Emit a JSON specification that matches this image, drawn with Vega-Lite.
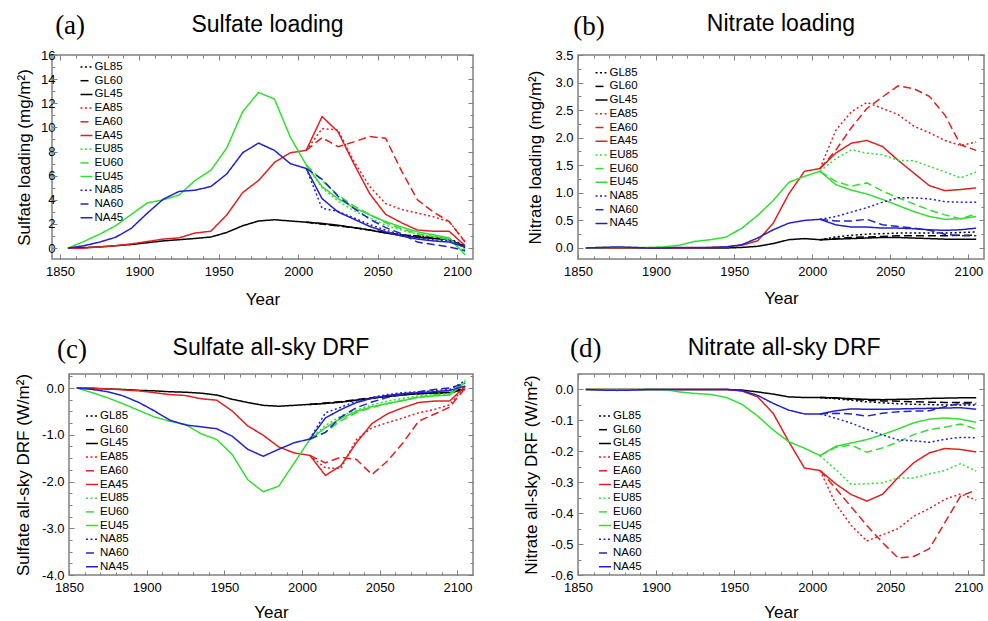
{
"$schema": "https://vega.github.io/schema/vega-lite/v6.json",
"background": "white",
"padding": {"left": 14, "top": 11, "right": 0, "bottom": 0},
"columns": 2,
"align": "each",
"spacing": {"row": 25, "column": 46},
"datasets": {
"a": [
{"s":"GL45","t":1855,"v":0},{"s":"GL45","t":1865,"v":0.05},{"s":"GL45","t":1875,"v":0.1},{"s":"GL45","t":1885,"v":0.2},{"s":"GL45","t":1895,"v":0.3},{"s":"GL45","t":1905,"v":0.45},{"s":"GL45","t":1915,"v":0.6},{"s":"GL45","t":1925,"v":0.7},{"s":"GL45","t":1935,"v":0.8},{"s":"GL45","t":1945,"v":0.92},{"s":"GL45","t":1955,"v":1.3},{"s":"GL45","t":1965,"v":1.85},{"s":"GL45","t":1975,"v":2.25},{"s":"GL45","t":1985,"v":2.35},{"s":"GL45","t":1995,"v":2.25},{"s":"GL45","t":2005,"v":2.15},{"s":"GL45","t":2015,"v":2.05},{"s":"GL45","t":2025,"v":1.9},{"s":"GL45","t":2035,"v":1.7},{"s":"GL45","t":2045,"v":1.5},{"s":"GL45","t":2055,"v":1.25},{"s":"GL45","t":2065,"v":1.05},{"s":"GL45","t":2075,"v":0.9},{"s":"GL45","t":2085,"v":0.8},{"s":"GL45","t":2095,"v":0.7},{"s":"GL45","t":2105,"v":0.1},
{"s":"GL60","t":2005,"v":2.15},{"s":"GL60","t":2015,"v":2.0},{"s":"GL60","t":2025,"v":1.85},{"s":"GL60","t":2035,"v":1.7},{"s":"GL60","t":2045,"v":1.5},{"s":"GL60","t":2055,"v":1.3},{"s":"GL60","t":2065,"v":1.1},{"s":"GL60","t":2075,"v":1.0},{"s":"GL60","t":2085,"v":0.85},{"s":"GL60","t":2095,"v":0.75},{"s":"GL60","t":2105,"v":0.05},
{"s":"GL85","t":2005,"v":2.15},{"s":"GL85","t":2015,"v":2.0},{"s":"GL85","t":2025,"v":1.85},{"s":"GL85","t":2035,"v":1.7},{"s":"GL85","t":2045,"v":1.5},{"s":"GL85","t":2055,"v":1.3},{"s":"GL85","t":2065,"v":1.1},{"s":"GL85","t":2075,"v":1.0},{"s":"GL85","t":2085,"v":0.9},{"s":"GL85","t":2095,"v":0.8},{"s":"GL85","t":2105,"v":0.2},
{"s":"EA45","t":1855,"v":0},{"s":"EA45","t":1865,"v":0},{"s":"EA45","t":1875,"v":0.1},{"s":"EA45","t":1885,"v":0.2},{"s":"EA45","t":1895,"v":0.35},{"s":"EA45","t":1905,"v":0.55},{"s":"EA45","t":1915,"v":0.75},{"s":"EA45","t":1925,"v":0.85},{"s":"EA45","t":1935,"v":1.25},{"s":"EA45","t":1945,"v":1.4},{"s":"EA45","t":1955,"v":2.75},{"s":"EA45","t":1965,"v":4.6},{"s":"EA45","t":1975,"v":5.6},{"s":"EA45","t":1985,"v":7.1},{"s":"EA45","t":1995,"v":7.9},{"s":"EA45","t":2005,"v":8.1},{"s":"EA45","t":2015,"v":10.9},{"s":"EA45","t":2025,"v":9.65},{"s":"EA45","t":2035,"v":7.0},{"s":"EA45","t":2045,"v":4.5},{"s":"EA45","t":2055,"v":2.8},{"s":"EA45","t":2065,"v":2.1},{"s":"EA45","t":2075,"v":1.5},{"s":"EA45","t":2085,"v":1.4},{"s":"EA45","t":2095,"v":1.4},{"s":"EA45","t":2105,"v":0.2},
{"s":"EA60","t":2005,"v":8.1},{"s":"EA60","t":2015,"v":9.15},{"s":"EA60","t":2025,"v":8.4},{"s":"EA60","t":2035,"v":8.8},{"s":"EA60","t":2045,"v":9.25},{"s":"EA60","t":2055,"v":9.1},{"s":"EA60","t":2065,"v":6.4},{"s":"EA60","t":2075,"v":4.0},{"s":"EA60","t":2085,"v":3.0},{"s":"EA60","t":2095,"v":2.2},{"s":"EA60","t":2105,"v":0.5},
{"s":"EA85","t":2005,"v":8.1},{"s":"EA85","t":2015,"v":9.9},{"s":"EA85","t":2025,"v":9.8},{"s":"EA85","t":2035,"v":7.2},{"s":"EA85","t":2045,"v":5.1},{"s":"EA85","t":2055,"v":3.7},{"s":"EA85","t":2065,"v":3.2},{"s":"EA85","t":2075,"v":2.9},{"s":"EA85","t":2085,"v":2.6},{"s":"EA85","t":2095,"v":2.2},{"s":"EA85","t":2105,"v":0.55},
{"s":"EU45","t":1855,"v":0},{"s":"EU45","t":1865,"v":0.55},{"s":"EU45","t":1875,"v":1.15},{"s":"EU45","t":1885,"v":1.85},{"s":"EU45","t":1895,"v":2.8},{"s":"EU45","t":1905,"v":3.75},{"s":"EU45","t":1915,"v":4.0},{"s":"EU45","t":1925,"v":4.4},{"s":"EU45","t":1935,"v":5.6},{"s":"EU45","t":1945,"v":6.45},{"s":"EU45","t":1955,"v":8.3},{"s":"EU45","t":1965,"v":11.3},{"s":"EU45","t":1975,"v":12.9},{"s":"EU45","t":1985,"v":12.35},{"s":"EU45","t":1995,"v":9.2},{"s":"EU45","t":2005,"v":6.9},{"s":"EU45","t":2015,"v":5.1},{"s":"EU45","t":2025,"v":4.1},{"s":"EU45","t":2035,"v":3.35},{"s":"EU45","t":2045,"v":2.75},{"s":"EU45","t":2055,"v":2.2},{"s":"EU45","t":2065,"v":1.75},{"s":"EU45","t":2075,"v":1.35},{"s":"EU45","t":2085,"v":1.1},{"s":"EU45","t":2095,"v":0.85},{"s":"EU45","t":2105,"v":-0.55},
{"s":"EU60","t":2005,"v":6.9},{"s":"EU60","t":2015,"v":5.6},{"s":"EU60","t":2025,"v":4.4},{"s":"EU60","t":2035,"v":3.5},{"s":"EU60","t":2045,"v":2.8},{"s":"EU60","t":2055,"v":2.1},{"s":"EU60","t":2065,"v":1.6},{"s":"EU60","t":2075,"v":1.2},{"s":"EU60","t":2085,"v":0.95},{"s":"EU60","t":2095,"v":0.7},{"s":"EU60","t":2105,"v":-0.3},
{"s":"EU85","t":2005,"v":6.9},{"s":"EU85","t":2015,"v":5.0},{"s":"EU85","t":2025,"v":3.9},{"s":"EU85","t":2035,"v":3.1},{"s":"EU85","t":2045,"v":2.5},{"s":"EU85","t":2055,"v":1.9},{"s":"EU85","t":2065,"v":1.5},{"s":"EU85","t":2075,"v":1.15},{"s":"EU85","t":2085,"v":0.95},{"s":"EU85","t":2095,"v":0.75},{"s":"EU85","t":2105,"v":-0.1},
{"s":"NA45","t":1855,"v":0},{"s":"NA45","t":1865,"v":0.2},{"s":"NA45","t":1875,"v":0.5},{"s":"NA45","t":1885,"v":0.9},{"s":"NA45","t":1895,"v":1.65},{"s":"NA45","t":1905,"v":2.9},{"s":"NA45","t":1915,"v":4.05},{"s":"NA45","t":1925,"v":4.7},{"s":"NA45","t":1935,"v":4.8},{"s":"NA45","t":1945,"v":5.1},{"s":"NA45","t":1955,"v":6.15},{"s":"NA45","t":1965,"v":7.9},{"s":"NA45","t":1975,"v":8.7},{"s":"NA45","t":1985,"v":8.1},{"s":"NA45","t":1995,"v":7.0},{"s":"NA45","t":2005,"v":6.6},{"s":"NA45","t":2015,"v":4.1},{"s":"NA45","t":2025,"v":3.0},{"s":"NA45","t":2035,"v":2.4},{"s":"NA45","t":2045,"v":1.8},{"s":"NA45","t":2055,"v":1.35},{"s":"NA45","t":2065,"v":1.0},{"s":"NA45","t":2075,"v":0.75},{"s":"NA45","t":2085,"v":0.6},{"s":"NA45","t":2095,"v":0.5},{"s":"NA45","t":2105,"v":0.1},
{"s":"NA60","t":2005,"v":6.6},{"s":"NA60","t":2015,"v":5.7},{"s":"NA60","t":2025,"v":4.3},{"s":"NA60","t":2035,"v":3.3},{"s":"NA60","t":2045,"v":2.4},{"s":"NA60","t":2055,"v":1.7},{"s":"NA60","t":2065,"v":1.2},{"s":"NA60","t":2075,"v":0.5},{"s":"NA60","t":2085,"v":0.3},{"s":"NA60","t":2095,"v":0.1},{"s":"NA60","t":2105,"v":-0.2},
{"s":"NA85","t":2005,"v":6.6},{"s":"NA85","t":2015,"v":3.3},{"s":"NA85","t":2025,"v":3.05},{"s":"NA85","t":2035,"v":2.5},{"s":"NA85","t":2045,"v":1.95},{"s":"NA85","t":2055,"v":1.5},{"s":"NA85","t":2065,"v":1.1},{"s":"NA85","t":2075,"v":0.85},{"s":"NA85","t":2085,"v":0.7},{"s":"NA85","t":2095,"v":0.6},{"s":"NA85","t":2105,"v":0.25}
],
"b": [
{"s":"GL45","t":1855,"v":0},{"s":"GL45","t":1865,"v":0},{"s":"GL45","t":1875,"v":0},{"s":"GL45","t":1885,"v":0},{"s":"GL45","t":1895,"v":0},{"s":"GL45","t":1905,"v":0},{"s":"GL45","t":1915,"v":0},{"s":"GL45","t":1925,"v":0},{"s":"GL45","t":1935,"v":0},{"s":"GL45","t":1945,"v":0},{"s":"GL45","t":1955,"v":0.01},{"s":"GL45","t":1965,"v":0.03},{"s":"GL45","t":1975,"v":0.08},{"s":"GL45","t":1985,"v":0.15},{"s":"GL45","t":1995,"v":0.17},{"s":"GL45","t":2005,"v":0.15},{"s":"GL45","t":2015,"v":0.16},{"s":"GL45","t":2025,"v":0.17},{"s":"GL45","t":2035,"v":0.18},{"s":"GL45","t":2045,"v":0.19},{"s":"GL45","t":2055,"v":0.19},{"s":"GL45","t":2065,"v":0.18},{"s":"GL45","t":2075,"v":0.17},{"s":"GL45","t":2085,"v":0.16},{"s":"GL45","t":2095,"v":0.16},{"s":"GL45","t":2105,"v":0.16},
{"s":"GL60","t":2005,"v":0.15},{"s":"GL60","t":2015,"v":0.17},{"s":"GL60","t":2025,"v":0.19},{"s":"GL60","t":2035,"v":0.2},{"s":"GL60","t":2045,"v":0.21},{"s":"GL60","t":2055,"v":0.22},{"s":"GL60","t":2065,"v":0.22},{"s":"GL60","t":2075,"v":0.22},{"s":"GL60","t":2085,"v":0.22},{"s":"GL60","t":2095,"v":0.23},{"s":"GL60","t":2105,"v":0.23},
{"s":"GL85","t":2005,"v":0.15},{"s":"GL85","t":2015,"v":0.2},{"s":"GL85","t":2025,"v":0.23},{"s":"GL85","t":2035,"v":0.25},{"s":"GL85","t":2045,"v":0.26},{"s":"GL85","t":2055,"v":0.27},{"s":"GL85","t":2065,"v":0.27},{"s":"GL85","t":2075,"v":0.27},{"s":"GL85","t":2085,"v":0.27},{"s":"GL85","t":2095,"v":0.28},{"s":"GL85","t":2105,"v":0.29},
{"s":"EA45","t":1855,"v":0},{"s":"EA45","t":1865,"v":0},{"s":"EA45","t":1875,"v":0},{"s":"EA45","t":1885,"v":0},{"s":"EA45","t":1895,"v":0},{"s":"EA45","t":1905,"v":0},{"s":"EA45","t":1915,"v":0},{"s":"EA45","t":1925,"v":0},{"s":"EA45","t":1935,"v":0.01},{"s":"EA45","t":1945,"v":0.02},{"s":"EA45","t":1955,"v":0.05},{"s":"EA45","t":1965,"v":0.13},{"s":"EA45","t":1975,"v":0.45},{"s":"EA45","t":1985,"v":0.98},{"s":"EA45","t":1995,"v":1.39},{"s":"EA45","t":2005,"v":1.44},{"s":"EA45","t":2015,"v":1.72},{"s":"EA45","t":2025,"v":1.9},{"s":"EA45","t":2035,"v":1.95},{"s":"EA45","t":2045,"v":1.84},{"s":"EA45","t":2055,"v":1.59},{"s":"EA45","t":2065,"v":1.36},{"s":"EA45","t":2075,"v":1.13},{"s":"EA45","t":2085,"v":1.04},{"s":"EA45","t":2095,"v":1.06},{"s":"EA45","t":2105,"v":1.09},
{"s":"EA60","t":2005,"v":1.44},{"s":"EA60","t":2015,"v":1.77},{"s":"EA60","t":2025,"v":2.18},{"s":"EA60","t":2035,"v":2.53},{"s":"EA60","t":2045,"v":2.74},{"s":"EA60","t":2055,"v":2.94},{"s":"EA60","t":2065,"v":2.89},{"s":"EA60","t":2075,"v":2.75},{"s":"EA60","t":2085,"v":2.41},{"s":"EA60","t":2095,"v":1.87},{"s":"EA60","t":2105,"v":1.77},
{"s":"EA85","t":2005,"v":1.44},{"s":"EA85","t":2015,"v":2.13},{"s":"EA85","t":2025,"v":2.47},{"s":"EA85","t":2035,"v":2.64},{"s":"EA85","t":2045,"v":2.53},{"s":"EA85","t":2055,"v":2.42},{"s":"EA85","t":2065,"v":2.21},{"s":"EA85","t":2075,"v":2.09},{"s":"EA85","t":2085,"v":1.95},{"s":"EA85","t":2095,"v":1.86},{"s":"EA85","t":2105,"v":1.92},
{"s":"EU45","t":1855,"v":0},{"s":"EU45","t":1865,"v":0.01},{"s":"EU45","t":1875,"v":0.01},{"s":"EU45","t":1885,"v":0.01},{"s":"EU45","t":1895,"v":0.01},{"s":"EU45","t":1905,"v":0.02},{"s":"EU45","t":1915,"v":0.05},{"s":"EU45","t":1925,"v":0.12},{"s":"EU45","t":1935,"v":0.15},{"s":"EU45","t":1945,"v":0.2},{"s":"EU45","t":1955,"v":0.36},{"s":"EU45","t":1965,"v":0.59},{"s":"EU45","t":1975,"v":0.86},{"s":"EU45","t":1985,"v":1.19},{"s":"EU45","t":1995,"v":1.3},{"s":"EU45","t":2005,"v":1.39},{"s":"EU45","t":2015,"v":1.15},{"s":"EU45","t":2025,"v":1.05},{"s":"EU45","t":2035,"v":0.98},{"s":"EU45","t":2045,"v":0.88},{"s":"EU45","t":2055,"v":0.77},{"s":"EU45","t":2065,"v":0.66},{"s":"EU45","t":2075,"v":0.57},{"s":"EU45","t":2085,"v":0.52},{"s":"EU45","t":2095,"v":0.53},{"s":"EU45","t":2105,"v":0.57},
{"s":"EU60","t":2005,"v":1.39},{"s":"EU60","t":2015,"v":1.21},{"s":"EU60","t":2025,"v":1.12},{"s":"EU60","t":2035,"v":1.18},{"s":"EU60","t":2045,"v":1.03},{"s":"EU60","t":2055,"v":0.91},{"s":"EU60","t":2065,"v":0.8},{"s":"EU60","t":2075,"v":0.69},{"s":"EU60","t":2085,"v":0.6},{"s":"EU60","t":2095,"v":0.53},{"s":"EU60","t":2105,"v":0.62},
{"s":"EU85","t":2005,"v":1.39},{"s":"EU85","t":2015,"v":1.62},{"s":"EU85","t":2025,"v":1.78},{"s":"EU85","t":2035,"v":1.72},{"s":"EU85","t":2045,"v":1.69},{"s":"EU85","t":2055,"v":1.59},{"s":"EU85","t":2065,"v":1.58},{"s":"EU85","t":2075,"v":1.48},{"s":"EU85","t":2085,"v":1.38},{"s":"EU85","t":2095,"v":1.27},{"s":"EU85","t":2105,"v":1.38},
{"s":"NA45","t":1855,"v":0},{"s":"NA45","t":1865,"v":0.01},{"s":"NA45","t":1875,"v":0.02},{"s":"NA45","t":1885,"v":0.01},{"s":"NA45","t":1895,"v":0},{"s":"NA45","t":1905,"v":0},{"s":"NA45","t":1915,"v":0.01},{"s":"NA45","t":1925,"v":0.01},{"s":"NA45","t":1935,"v":0.01},{"s":"NA45","t":1945,"v":0.02},{"s":"NA45","t":1955,"v":0.06},{"s":"NA45","t":1965,"v":0.18},{"s":"NA45","t":1975,"v":0.33},{"s":"NA45","t":1985,"v":0.45},{"s":"NA45","t":1995,"v":0.5},{"s":"NA45","t":2005,"v":0.52},{"s":"NA45","t":2015,"v":0.42},{"s":"NA45","t":2025,"v":0.38},{"s":"NA45","t":2035,"v":0.38},{"s":"NA45","t":2045,"v":0.36},{"s":"NA45","t":2055,"v":0.36},{"s":"NA45","t":2065,"v":0.35},{"s":"NA45","t":2075,"v":0.33},{"s":"NA45","t":2085,"v":0.32},{"s":"NA45","t":2095,"v":0.33},{"s":"NA45","t":2105,"v":0.36},
{"s":"NA60","t":2005,"v":0.52},{"s":"NA60","t":2015,"v":0.49},{"s":"NA60","t":2025,"v":0.49},{"s":"NA60","t":2035,"v":0.52},{"s":"NA60","t":2045,"v":0.42},{"s":"NA60","t":2055,"v":0.39},{"s":"NA60","t":2065,"v":0.36},{"s":"NA60","t":2075,"v":0.32},{"s":"NA60","t":2085,"v":0.25},{"s":"NA60","t":2095,"v":0.22},{"s":"NA60","t":2105,"v":0.22},
{"s":"NA85","t":2005,"v":0.52},{"s":"NA85","t":2015,"v":0.57},{"s":"NA85","t":2025,"v":0.65},{"s":"NA85","t":2035,"v":0.73},{"s":"NA85","t":2045,"v":0.83},{"s":"NA85","t":2055,"v":0.91},{"s":"NA85","t":2065,"v":0.91},{"s":"NA85","t":2075,"v":0.89},{"s":"NA85","t":2085,"v":0.84},{"s":"NA85","t":2095,"v":0.83},{"s":"NA85","t":2105,"v":0.83}
],
"c": [
{"s":"GL45","t":1855,"v":0},{"s":"GL45","t":1865,"v":-0.01},{"s":"GL45","t":1875,"v":-0.02},{"s":"GL45","t":1885,"v":-0.03},{"s":"GL45","t":1895,"v":-0.05},{"s":"GL45","t":1905,"v":-0.06},{"s":"GL45","t":1915,"v":-0.08},{"s":"GL45","t":1925,"v":-0.09},{"s":"GL45","t":1935,"v":-0.11},{"s":"GL45","t":1945,"v":-0.15},{"s":"GL45","t":1955,"v":-0.24},{"s":"GL45","t":1965,"v":-0.31},{"s":"GL45","t":1975,"v":-0.37},{"s":"GL45","t":1985,"v":-0.39},{"s":"GL45","t":1995,"v":-0.37},{"s":"GL45","t":2005,"v":-0.35},{"s":"GL45","t":2015,"v":-0.33},{"s":"GL45","t":2025,"v":-0.3},{"s":"GL45","t":2035,"v":-0.26},{"s":"GL45","t":2045,"v":-0.22},{"s":"GL45","t":2055,"v":-0.18},{"s":"GL45","t":2065,"v":-0.15},{"s":"GL45","t":2075,"v":-0.12},{"s":"GL45","t":2085,"v":-0.11},{"s":"GL45","t":2095,"v":-0.1},{"s":"GL45","t":2105,"v":-0.03},
{"s":"GL60","t":2005,"v":-0.35},{"s":"GL60","t":2015,"v":-0.32},{"s":"GL60","t":2025,"v":-0.29},{"s":"GL60","t":2035,"v":-0.25},{"s":"GL60","t":2045,"v":-0.21},{"s":"GL60","t":2055,"v":-0.17},{"s":"GL60","t":2065,"v":-0.14},{"s":"GL60","t":2075,"v":-0.12},{"s":"GL60","t":2085,"v":-0.1},{"s":"GL60","t":2095,"v":-0.09},{"s":"GL60","t":2105,"v":0.0},
{"s":"GL85","t":2005,"v":-0.35},{"s":"GL85","t":2015,"v":-0.33},{"s":"GL85","t":2025,"v":-0.3},{"s":"GL85","t":2035,"v":-0.26},{"s":"GL85","t":2045,"v":-0.22},{"s":"GL85","t":2055,"v":-0.17},{"s":"GL85","t":2065,"v":-0.14},{"s":"GL85","t":2075,"v":-0.12},{"s":"GL85","t":2085,"v":-0.11},{"s":"GL85","t":2095,"v":-0.1},{"s":"GL85","t":2105,"v":-0.02},
{"s":"EA45","t":1855,"v":0},{"s":"EA45","t":1865,"v":0},{"s":"EA45","t":1875,"v":-0.02},{"s":"EA45","t":1885,"v":-0.04},{"s":"EA45","t":1895,"v":-0.06},{"s":"EA45","t":1905,"v":-0.1},{"s":"EA45","t":1915,"v":-0.14},{"s":"EA45","t":1925,"v":-0.16},{"s":"EA45","t":1935,"v":-0.23},{"s":"EA45","t":1945,"v":-0.26},{"s":"EA45","t":1955,"v":-0.49},{"s":"EA45","t":1965,"v":-0.81},{"s":"EA45","t":1975,"v":-1.01},{"s":"EA45","t":1985,"v":-1.26},{"s":"EA45","t":1995,"v":-1.39},{"s":"EA45","t":2005,"v":-1.44},{"s":"EA45","t":2015,"v":-1.87},{"s":"EA45","t":2025,"v":-1.66},{"s":"EA45","t":2035,"v":-1.17},{"s":"EA45","t":2045,"v":-0.76},{"s":"EA45","t":2055,"v":-0.55},{"s":"EA45","t":2065,"v":-0.42},{"s":"EA45","t":2075,"v":-0.31},{"s":"EA45","t":2085,"v":-0.28},{"s":"EA45","t":2095,"v":-0.28},{"s":"EA45","t":2105,"v":0.04},
{"s":"EA60","t":2005,"v":-1.44},{"s":"EA60","t":2015,"v":-1.6},{"s":"EA60","t":2025,"v":-1.48},{"s":"EA60","t":2035,"v":-1.53},{"s":"EA60","t":2045,"v":-1.85},{"s":"EA60","t":2055,"v":-1.56},{"s":"EA60","t":2065,"v":-1.17},{"s":"EA60","t":2075,"v":-0.71},{"s":"EA60","t":2085,"v":-0.56},{"s":"EA60","t":2095,"v":-0.41},{"s":"EA60","t":2105,"v":0.0},
{"s":"EA85","t":2005,"v":-1.44},{"s":"EA85","t":2015,"v":-1.71},{"s":"EA85","t":2025,"v":-1.72},{"s":"EA85","t":2035,"v":-1.1},{"s":"EA85","t":2045,"v":-0.85},{"s":"EA85","t":2055,"v":-0.74},{"s":"EA85","t":2065,"v":-0.64},{"s":"EA85","t":2075,"v":-0.53},{"s":"EA85","t":2085,"v":-0.46},{"s":"EA85","t":2095,"v":-0.36},{"s":"EA85","t":2105,"v":0.04},
{"s":"EU45","t":1855,"v":0},{"s":"EU45","t":1865,"v":-0.1},{"s":"EU45","t":1875,"v":-0.21},{"s":"EU45","t":1885,"v":-0.34},{"s":"EU45","t":1895,"v":-0.48},{"s":"EU45","t":1905,"v":-0.62},{"s":"EU45","t":1915,"v":-0.71},{"s":"EU45","t":1925,"v":-0.78},{"s":"EU45","t":1935,"v":-0.98},{"s":"EU45","t":1945,"v":-1.1},{"s":"EU45","t":1955,"v":-1.42},{"s":"EU45","t":1965,"v":-1.96},{"s":"EU45","t":1975,"v":-2.22},{"s":"EU45","t":1985,"v":-2.1},{"s":"EU45","t":1995,"v":-1.6},{"s":"EU45","t":2005,"v":-1.1},{"s":"EU45","t":2015,"v":-0.85},{"s":"EU45","t":2025,"v":-0.65},{"s":"EU45","t":2035,"v":-0.5},{"s":"EU45","t":2045,"v":-0.4},{"s":"EU45","t":2055,"v":-0.33},{"s":"EU45","t":2065,"v":-0.27},{"s":"EU45","t":2075,"v":-0.2},{"s":"EU45","t":2085,"v":-0.17},{"s":"EU45","t":2095,"v":-0.15},{"s":"EU45","t":2105,"v":0.12},
{"s":"EU60","t":2005,"v":-1.1},{"s":"EU60","t":2015,"v":-0.95},{"s":"EU60","t":2025,"v":-0.7},{"s":"EU60","t":2035,"v":-0.53},{"s":"EU60","t":2045,"v":-0.42},{"s":"EU60","t":2055,"v":-0.33},{"s":"EU60","t":2065,"v":-0.26},{"s":"EU60","t":2075,"v":-0.19},{"s":"EU60","t":2085,"v":-0.15},{"s":"EU60","t":2095,"v":-0.12},{"s":"EU60","t":2105,"v":0.15},
{"s":"EU85","t":2005,"v":-1.1},{"s":"EU85","t":2015,"v":-0.8},{"s":"EU85","t":2025,"v":-0.6},{"s":"EU85","t":2035,"v":-0.47},{"s":"EU85","t":2045,"v":-0.36},{"s":"EU85","t":2055,"v":-0.28},{"s":"EU85","t":2065,"v":-0.22},{"s":"EU85","t":2075,"v":-0.17},{"s":"EU85","t":2085,"v":-0.14},{"s":"EU85","t":2095,"v":-0.12},{"s":"EU85","t":2105,"v":0.18},
{"s":"NA45","t":1855,"v":0},{"s":"NA45","t":1865,"v":-0.03},{"s":"NA45","t":1875,"v":-0.08},{"s":"NA45","t":1885,"v":-0.17},{"s":"NA45","t":1895,"v":-0.31},{"s":"NA45","t":1905,"v":-0.49},{"s":"NA45","t":1915,"v":-0.69},{"s":"NA45","t":1925,"v":-0.79},{"s":"NA45","t":1935,"v":-0.83},{"s":"NA45","t":1945,"v":-0.87},{"s":"NA45","t":1955,"v":-1.03},{"s":"NA45","t":1965,"v":-1.31},{"s":"NA45","t":1975,"v":-1.46},{"s":"NA45","t":1985,"v":-1.31},{"s":"NA45","t":1995,"v":-1.17},{"s":"NA45","t":2005,"v":-1.09},{"s":"NA45","t":2015,"v":-0.64},{"s":"NA45","t":2025,"v":-0.46},{"s":"NA45","t":2035,"v":-0.31},{"s":"NA45","t":2045,"v":-0.22},{"s":"NA45","t":2055,"v":-0.16},{"s":"NA45","t":2065,"v":-0.12},{"s":"NA45","t":2075,"v":-0.1},{"s":"NA45","t":2085,"v":-0.08},{"s":"NA45","t":2095,"v":-0.05},{"s":"NA45","t":2105,"v":0.04},
{"s":"NA60","t":2005,"v":-1.09},{"s":"NA60","t":2015,"v":-0.95},{"s":"NA60","t":2025,"v":-0.62},{"s":"NA60","t":2035,"v":-0.42},{"s":"NA60","t":2045,"v":-0.3},{"s":"NA60","t":2055,"v":-0.2},{"s":"NA60","t":2065,"v":-0.14},{"s":"NA60","t":2075,"v":-0.08},{"s":"NA60","t":2085,"v":-0.03},{"s":"NA60","t":2095,"v":0.0},{"s":"NA60","t":2105,"v":0.1},
{"s":"NA85","t":2005,"v":-1.09},{"s":"NA85","t":2015,"v":-0.53},{"s":"NA85","t":2025,"v":-0.41},{"s":"NA85","t":2035,"v":-0.28},{"s":"NA85","t":2045,"v":-0.2},{"s":"NA85","t":2055,"v":-0.14},{"s":"NA85","t":2065,"v":-0.1},{"s":"NA85","t":2075,"v":-0.08},{"s":"NA85","t":2085,"v":-0.06},{"s":"NA85","t":2095,"v":-0.03},{"s":"NA85","t":2105,"v":0.15}
],
"d": [
{"s":"GL45","t":1855,"v":0},{"s":"GL45","t":1865,"v":0},{"s":"GL45","t":1875,"v":0},{"s":"GL45","t":1885,"v":0},{"s":"GL45","t":1895,"v":0},{"s":"GL45","t":1905,"v":0},{"s":"GL45","t":1915,"v":0},{"s":"GL45","t":1925,"v":0},{"s":"GL45","t":1935,"v":0},{"s":"GL45","t":1945,"v":0},{"s":"GL45","t":1955,"v":-0.002},{"s":"GL45","t":1965,"v":-0.008},{"s":"GL45","t":1975,"v":-0.015},{"s":"GL45","t":1985,"v":-0.024},{"s":"GL45","t":1995,"v":-0.026},{"s":"GL45","t":2005,"v":-0.026},{"s":"GL45","t":2015,"v":-0.027},{"s":"GL45","t":2025,"v":-0.03},{"s":"GL45","t":2035,"v":-0.032},{"s":"GL45","t":2045,"v":-0.033},{"s":"GL45","t":2055,"v":-0.032},{"s":"GL45","t":2065,"v":-0.031},{"s":"GL45","t":2075,"v":-0.029},{"s":"GL45","t":2085,"v":-0.028},{"s":"GL45","t":2095,"v":-0.027},{"s":"GL45","t":2105,"v":-0.027},
{"s":"GL60","t":2005,"v":-0.026},{"s":"GL60","t":2015,"v":-0.028},{"s":"GL60","t":2025,"v":-0.032},{"s":"GL60","t":2035,"v":-0.035},{"s":"GL60","t":2045,"v":-0.037},{"s":"GL60","t":2055,"v":-0.038},{"s":"GL60","t":2065,"v":-0.04},{"s":"GL60","t":2075,"v":-0.041},{"s":"GL60","t":2085,"v":-0.042},{"s":"GL60","t":2095,"v":-0.042},{"s":"GL60","t":2105,"v":-0.042},
{"s":"GL85","t":2005,"v":-0.026},{"s":"GL85","t":2015,"v":-0.03},{"s":"GL85","t":2025,"v":-0.035},{"s":"GL85","t":2035,"v":-0.04},{"s":"GL85","t":2045,"v":-0.043},{"s":"GL85","t":2055,"v":-0.046},{"s":"GL85","t":2065,"v":-0.048},{"s":"GL85","t":2075,"v":-0.049},{"s":"GL85","t":2085,"v":-0.05},{"s":"GL85","t":2095,"v":-0.05},{"s":"GL85","t":2105,"v":-0.05},
{"s":"EA45","t":1855,"v":0},{"s":"EA45","t":1865,"v":0},{"s":"EA45","t":1875,"v":0},{"s":"EA45","t":1885,"v":0},{"s":"EA45","t":1895,"v":0},{"s":"EA45","t":1905,"v":0},{"s":"EA45","t":1915,"v":0},{"s":"EA45","t":1925,"v":0},{"s":"EA45","t":1935,"v":0},{"s":"EA45","t":1945,"v":0},{"s":"EA45","t":1955,"v":-0.005},{"s":"EA45","t":1965,"v":-0.024},{"s":"EA45","t":1975,"v":-0.077},{"s":"EA45","t":1985,"v":-0.169},{"s":"EA45","t":1995,"v":-0.254},{"s":"EA45","t":2005,"v":-0.262},{"s":"EA45","t":2015,"v":-0.305},{"s":"EA45","t":2025,"v":-0.34},{"s":"EA45","t":2035,"v":-0.361},{"s":"EA45","t":2045,"v":-0.339},{"s":"EA45","t":2055,"v":-0.285},{"s":"EA45","t":2065,"v":-0.237},{"s":"EA45","t":2075,"v":-0.205},{"s":"EA45","t":2085,"v":-0.191},{"s":"EA45","t":2095,"v":-0.194},{"s":"EA45","t":2105,"v":-0.202},
{"s":"EA60","t":2005,"v":-0.262},{"s":"EA60","t":2015,"v":-0.32},{"s":"EA60","t":2025,"v":-0.38},{"s":"EA60","t":2035,"v":-0.44},{"s":"EA60","t":2045,"v":-0.495},{"s":"EA60","t":2055,"v":-0.545},{"s":"EA60","t":2065,"v":-0.54},{"s":"EA60","t":2075,"v":-0.515},{"s":"EA60","t":2085,"v":-0.43},{"s":"EA60","t":2095,"v":-0.345},{"s":"EA60","t":2105,"v":-0.325},
{"s":"EA85","t":2005,"v":-0.262},{"s":"EA85","t":2015,"v":-0.37},{"s":"EA85","t":2025,"v":-0.44},{"s":"EA85","t":2035,"v":-0.49},{"s":"EA85","t":2045,"v":-0.47},{"s":"EA85","t":2055,"v":-0.45},{"s":"EA85","t":2065,"v":-0.41},{"s":"EA85","t":2075,"v":-0.385},{"s":"EA85","t":2085,"v":-0.355},{"s":"EA85","t":2095,"v":-0.338},{"s":"EA85","t":2105,"v":-0.358},
{"s":"EU45","t":1855,"v":0},{"s":"EU45","t":1865,"v":0},{"s":"EU45","t":1875,"v":0},{"s":"EU45","t":1885,"v":0},{"s":"EU45","t":1895,"v":0},{"s":"EU45","t":1905,"v":0},{"s":"EU45","t":1915,"v":-0.008},{"s":"EU45","t":1925,"v":-0.013},{"s":"EU45","t":1935,"v":-0.016},{"s":"EU45","t":1945,"v":-0.026},{"s":"EU45","t":1955,"v":-0.048},{"s":"EU45","t":1965,"v":-0.086},{"s":"EU45","t":1975,"v":-0.131},{"s":"EU45","t":1985,"v":-0.169},{"s":"EU45","t":1995,"v":-0.19},{"s":"EU45","t":2005,"v":-0.214},{"s":"EU45","t":2015,"v":-0.184},{"s":"EU45","t":2025,"v":-0.173},{"s":"EU45","t":2035,"v":-0.162},{"s":"EU45","t":2045,"v":-0.146},{"s":"EU45","t":2055,"v":-0.128},{"s":"EU45","t":2065,"v":-0.108},{"s":"EU45","t":2075,"v":-0.096},{"s":"EU45","t":2085,"v":-0.092},{"s":"EU45","t":2095,"v":-0.096},{"s":"EU45","t":2105,"v":-0.106},
{"s":"EU60","t":2005,"v":-0.214},{"s":"EU60","t":2015,"v":-0.187},{"s":"EU60","t":2025,"v":-0.18},{"s":"EU60","t":2035,"v":-0.203},{"s":"EU60","t":2045,"v":-0.189},{"s":"EU60","t":2055,"v":-0.17},{"s":"EU60","t":2065,"v":-0.146},{"s":"EU60","t":2075,"v":-0.13},{"s":"EU60","t":2085,"v":-0.122},{"s":"EU60","t":2095,"v":-0.112},{"s":"EU60","t":2105,"v":-0.128},
{"s":"EU85","t":2005,"v":-0.214},{"s":"EU85","t":2015,"v":-0.259},{"s":"EU85","t":2025,"v":-0.307},{"s":"EU85","t":2035,"v":-0.305},{"s":"EU85","t":2045,"v":-0.302},{"s":"EU85","t":2055,"v":-0.286},{"s":"EU85","t":2065,"v":-0.286},{"s":"EU85","t":2075,"v":-0.273},{"s":"EU85","t":2085,"v":-0.262},{"s":"EU85","t":2095,"v":-0.24},{"s":"EU85","t":2105,"v":-0.264},
{"s":"NA45","t":1855,"v":0},{"s":"NA45","t":1865,"v":-0.002},{"s":"NA45","t":1875,"v":-0.003},{"s":"NA45","t":1885,"v":-0.002},{"s":"NA45","t":1895,"v":0},{"s":"NA45","t":1905,"v":0},{"s":"NA45","t":1915,"v":0},{"s":"NA45","t":1925,"v":0},{"s":"NA45","t":1935,"v":0},{"s":"NA45","t":1945,"v":0},{"s":"NA45","t":1955,"v":-0.004},{"s":"NA45","t":1965,"v":-0.019},{"s":"NA45","t":1975,"v":-0.045},{"s":"NA45","t":1985,"v":-0.067},{"s":"NA45","t":1995,"v":-0.079},{"s":"NA45","t":2005,"v":-0.079},{"s":"NA45","t":2015,"v":-0.069},{"s":"NA45","t":2025,"v":-0.063},{"s":"NA45","t":2035,"v":-0.064},{"s":"NA45","t":2045,"v":-0.064},{"s":"NA45","t":2055,"v":-0.063},{"s":"NA45","t":2065,"v":-0.062},{"s":"NA45","t":2075,"v":-0.061},{"s":"NA45","t":2085,"v":-0.06},{"s":"NA45","t":2095,"v":-0.059},{"s":"NA45","t":2105,"v":-0.064},
{"s":"NA60","t":2005,"v":-0.079},{"s":"NA60","t":2015,"v":-0.077},{"s":"NA60","t":2025,"v":-0.079},{"s":"NA60","t":2035,"v":-0.086},{"s":"NA60","t":2045,"v":-0.077},{"s":"NA60","t":2055,"v":-0.072},{"s":"NA60","t":2065,"v":-0.07},{"s":"NA60","t":2075,"v":-0.069},{"s":"NA60","t":2085,"v":-0.056},{"s":"NA60","t":2095,"v":-0.045},{"s":"NA60","t":2105,"v":-0.047},
{"s":"NA85","t":2005,"v":-0.079},{"s":"NA85","t":2015,"v":-0.093},{"s":"NA85","t":2025,"v":-0.109},{"s":"NA85","t":2035,"v":-0.129},{"s":"NA85","t":2045,"v":-0.147},{"s":"NA85","t":2055,"v":-0.163},{"s":"NA85","t":2065,"v":-0.166},{"s":"NA85","t":2075,"v":-0.171},{"s":"NA85","t":2085,"v":-0.161},{"s":"NA85","t":2095,"v":-0.155},{"s":"NA85","t":2105,"v":-0.156}
]
},
"resolve": {"scale": {"color": "independent", "strokeDash": "independent"}, "legend": {"color": "independent", "strokeDash": "independent"}},
"concat": [
  {"width": 421, "height": 204,
   "resolve": {"axis": {"x": "independent", "y": "independent"}},
   "layer": [
    {"data": {"name": "a"}, "mark": {"type": "line", "strokeWidth": 1.5},
     "encoding": {
      "x": {"field": "t", "type": "quantitative", "scale": {"domain": [1845, 2110], "nice": false, "zero": false},
            "axis": {"orient": "bottom", "values": [1850, 1900, 1950, 2000, 2050, 2100], "format": "d", "title": "Year", "labelPadding": 11.5, "titlePadding": 13, "labelOverlap": false}},
      "y": {"field": "v", "type": "quantitative", "scale": {"domain": [-0.9, 16], "nice": false, "zero": false},
            "axis": {"orient": "left", "values": [0, 2, 4, 6, 8, 10, 12, 14, 16], "format": "d", "title": "Sulfate loading (mg/m²)", "labelPadding": 2, "titlePadding": 7.5, "labelOverlap": false}},
      "color": {"field": "s", "type": "nominal",
                "scale": {"domain": ["GL85","GL60","GL45","EA85","EA60","EA45","EU85","EU60","EU45","NA85","NA60","NA45"],
                          "range": ["#000000","#000000","#000000","#dd2222","#dd2222","#dd2222","#33dd33","#33dd33","#33dd33","#2222cc","#2222cc","#2222cc"]},
                "legend": {"orient": "none", "legendX": 27.5, "legendY": 5, "title": null}},
      "strokeDash": {"field": "s", "type": "nominal",
                "scale": {"domain": ["GL85","GL60","GL45","EA85","EA60","EA45","EU85","EU60","EU45","NA85","NA60","NA45"],
                          "range": [[2,2.5],[8,4],[1,0],[2,2.5],[8,4],[1,0],[2,2.5],[8,4],[1,0],[2,2.5],[8,4],[1,0]]},
                "legend": {"orient": "none", "legendX": 27.5, "legendY": 5, "title": null}}
     }},
    {"data": {"values": [{}]}, "mark": {"type": "text", "font": "Liberation Serif", "fontSize": 27, "align": "center", "baseline": "middle"},
     "encoding": {
      "x": {"datum": 1856.4, "axis": {"orient": "top", "values": [1850, 1900, 1950, 2000, 2050, 2100], "labels": false, "title": null, "tickSize": -5}},
      "y": {"datum": 18.4, "axis": {"orient": "right", "values": [0, 2, 4, 6, 8, 10, 12, 14, 16], "labels": false, "title": null, "tickSize": -5}},
      "text": {"value": "(a)"}}},
    {"data": {"values": [{}]}, "mark": {"type": "text", "fontSize": 23, "align": "center", "baseline": "alphabetic"},
     "encoding": {
      "x": {"datum": 1980.7, "axis": {"orient": "bottom", "values": [1850,1860,1870,1880,1890,1900,1910,1920,1930,1940,1950,1960,1970,1980,1990,2000,2010,2020,2030,2040,2050,2060,2070,2080,2090,2100], "labels": false, "title": null, "tickSize": -3}},
      "y": {"datum": 17.93, "axis": {"orient": "left", "values": [0,1,2,3,4,5,6,7,8,9,10,11,12,13,14,15,16], "labels": false, "title": null, "tickSize": -3}},
      "text": {"value": "Sulfate loading"}}},
    {"data": {"values": [{}]}, "mark": {"type": "point", "opacity": 0, "size": 1},
     "encoding": {
      "x": {"datum": 1900, "axis": {"orient": "top", "values": [1850,1860,1870,1880,1890,1900,1910,1920,1930,1940,1950,1960,1970,1980,1990,2000,2010,2020,2030,2040,2050,2060,2070,2080,2090,2100], "labels": false, "title": null, "tickSize": -3}},
      "y": {"datum": 0, "axis": {"orient": "right", "values": [0,1,2,3,4,5,6,7,8,9,10,11,12,13,14,15,16], "labels": false, "title": null, "tickSize": -3}}}}
   ]},
  {"width": 406, "height": 204,
   "resolve": {"axis": {"x": "independent", "y": "independent"}},
   "layer": [
    {"data": {"name": "b"}, "mark": {"type": "line", "strokeWidth": 1.5},
     "encoding": {
      "x": {"field": "t", "type": "quantitative", "scale": {"domain": [1850, 2110], "nice": false, "zero": false},
            "axis": {"orient": "bottom", "values": [1850, 1900, 1950, 2000, 2050, 2100], "format": "d", "title": "Year", "labelPadding": 11.5, "titlePadding": 12, "labelOverlap": false}},
      "y": {"field": "v", "type": "quantitative", "scale": {"domain": [-0.2, 3.5], "nice": false, "zero": false},
            "axis": {"orient": "left", "values": [0, 0.5, 1, 1.5, 2, 2.5, 3, 3.5], "format": ".1f", "title": "Nitrate loading (mg/m²)", "labelPadding": 10, "titlePadding": 10, "labelOverlap": false}},
      "color": {"field": "s", "type": "nominal",
                "scale": {"domain": ["GL85","GL60","GL45","EA85","EA60","EA45","EU85","EU60","EU45","NA85","NA60","NA45"],
                          "range": ["#000000","#000000","#000000","#dd2222","#dd2222","#dd2222","#33dd33","#33dd33","#33dd33","#2222cc","#2222cc","#2222cc"]},
                "legend": {"orient": "none", "legendX": 16.5, "legendY": 10.7, "title": null}},
      "strokeDash": {"field": "s", "type": "nominal",
                "scale": {"domain": ["GL85","GL60","GL45","EA85","EA60","EA45","EU85","EU60","EU45","NA85","NA60","NA45"],
                          "range": [[2,2.5],[8,4],[1,0],[2,2.5],[8,4],[1,0],[2,2.5],[8,4],[1,0],[2,2.5],[8,4],[1,0]]},
                "legend": {"orient": "none", "legendX": 16.5, "legendY": 10.7, "title": null}}
     }},
    {"data": {"values": [{}]}, "mark": {"type": "text", "font": "Liberation Serif", "fontSize": 27, "align": "center", "baseline": "middle"},
     "encoding": {
      "x": {"datum": 1857, "axis": {"orient": "top", "values": [1850, 1900, 1950, 2000, 2050, 2100], "labels": false, "title": null, "tickSize": -5}},
      "y": {"datum": 4.0, "axis": {"orient": "right", "values": [0, 0.5, 1, 1.5, 2, 2.5, 3, 3.5], "labels": false, "title": null, "tickSize": -5}},
      "text": {"value": "(b)"}}},
    {"data": {"values": [{}]}, "mark": {"type": "text", "fontSize": 23, "align": "center", "baseline": "alphabetic"},
     "encoding": {
      "x": {"datum": 1980, "axis": {"orient": "bottom", "values": [1850,1860,1870,1880,1890,1900,1910,1920,1930,1940,1950,1960,1970,1980,1990,2000,2010,2020,2030,2040,2050,2060,2070,2080,2090,2100], "labels": false, "title": null, "tickSize": -3}},
      "y": {"datum": 3.94, "axis": {"orient": "left", "values": [0,0.25,0.5,0.75,1,1.25,1.5,1.75,2,2.25,2.5,2.75,3,3.25,3.5], "labels": false, "title": null, "tickSize": -3}},
      "text": {"value": "Nitrate loading"}}},
    {"data": {"values": [{}]}, "mark": {"type": "point", "opacity": 0, "size": 1},
     "encoding": {
      "x": {"datum": 1900, "axis": {"orient": "top", "values": [1850,1860,1870,1880,1890,1900,1910,1920,1930,1940,1950,1960,1970,1980,1990,2000,2010,2020,2030,2040,2050,2060,2070,2080,2090,2100], "labels": false, "title": null, "tickSize": -3}},
      "y": {"datum": 0, "axis": {"orient": "right", "values": [0,0.25,0.5,0.75,1,1.25,1.5,1.75,2,2.25,2.5,2.75,3,3.25,3.5], "labels": false, "title": null, "tickSize": -3}}}}
   ]},
  {"width": 421, "height": 201,
   "view": {"stroke": null},
   "resolve": {"axis": {"x": "independent", "y": "independent"}},
   "layer": [
    {"data": {"name": "c"}, "mark": {"type": "line", "strokeWidth": 1.5},
     "encoding": {
      "x": {"field": "t", "type": "quantitative", "scale": {"domain": [1839.06, 2110], "nice": false, "zero": false},
            "axis": {"orient": "bottom", "values": [1850, 1900, 1950, 2000, 2050, 2100], "format": "d", "title": "Year", "titleX": 219, "labelPadding": 11.5, "titlePadding": 9.5, "labelOverlap": false}},
      "y": {"field": "v", "type": "quantitative", "scale": {"domain": [-4, 0.3], "nice": false, "zero": false},
            "axis": {"orient": "left", "offset": -17, "values": [-4, -3, -2, -1, 0], "format": ".1f", "title": "Sulfate all-sky DRF (W/m²)", "labelPadding": 10, "titlePadding": 9, "labelOverlap": false}},
      "color": {"field": "s", "type": "nominal",
                "scale": {"domain": ["GL85","GL60","GL45","EA85","EA60","EA45","EU85","EU60","EU45","NA85","NA60","NA45"],
                          "range": ["#000000","#000000","#000000","#dd2222","#dd2222","#dd2222","#33dd33","#33dd33","#33dd33","#2222cc","#2222cc","#2222cc"]},
                "legend": {"orient": "none", "legendX": 33, "legendY": 35, "title": null}},
      "strokeDash": {"field": "s", "type": "nominal",
                "scale": {"domain": ["GL85","GL60","GL45","EA85","EA60","EA45","EU85","EU60","EU45","NA85","NA60","NA45"],
                          "range": [[2,2.5],[8,4],[1,0],[2,2.5],[8,4],[1,0],[2,2.5],[8,4],[1,0],[2,2.5],[8,4],[1,0]]},
                "legend": {"orient": "none", "legendX": 33, "legendY": 35, "title": null}}
     }},
    {"data": {"values": [{}]}, "mark": {"type": "rect", "filled": false, "stroke": "#808080", "strokeWidth": 1.5},
     "encoding": {"x": {"datum": 1850, "axis": null}, "x2": {"datum": 2110}, "y": {"datum": -4, "axis": null}, "y2": {"datum": 0.3}}},
    {"data": {"values": [{}]}, "mark": {"type": "text", "font": "Liberation Serif", "fontSize": 27, "align": "center", "baseline": "middle"},
     "encoding": {
      "x": {"datum": 1852, "axis": {"orient": "top", "values": [1850, 1900, 1950, 2000, 2050, 2100], "labels": false, "title": null, "tickSize": -5}},
      "y": {"datum": 0.82, "axis": {"orient": "right", "values": [-4, -3, -2, -1, 0], "labels": false, "title": null, "tickSize": -5}},
      "text": {"value": "(c)"}}},
    {"data": {"values": [{}]}, "mark": {"type": "text", "fontSize": 23, "align": "center", "baseline": "alphabetic"},
     "encoding": {
      "x": {"datum": 1980, "axis": {"orient": "bottom", "values": [1850,1860,1870,1880,1890,1900,1910,1920,1930,1940,1950,1960,1970,1980,1990,2000,2010,2020,2030,2040,2050,2060,2070,2080,2090,2100], "labels": false, "title": null, "tickSize": -3}},
      "y": {"datum": 0.713, "axis": {"orient": "left", "offset": -17, "values": [-4,-3.75,-3.5,-3.25,-3,-2.75,-2.5,-2.25,-2,-1.75,-1.5,-1.25,-1,-0.75,-0.5,-0.25,0,0.25], "labels": false, "title": null, "tickSize": -3}},
      "text": {"value": "Sulfate all-sky DRF"}}},
    {"data": {"values": [{}]}, "mark": {"type": "point", "opacity": 0, "size": 1},
     "encoding": {
      "x": {"datum": 1900, "axis": {"orient": "top", "values": [1850,1860,1870,1880,1890,1900,1910,1920,1930,1940,1950,1960,1970,1980,1990,2000,2010,2020,2030,2040,2050,2060,2070,2080,2090,2100], "labels": false, "title": null, "tickSize": -3}},
      "y": {"datum": 0, "axis": {"orient": "right", "values": [-4,-3.75,-3.5,-3.25,-3,-2.75,-2.5,-2.25,-2,-1.75,-1.5,-1.25,-1,-0.75,-0.5,-0.25,0,0.25], "labels": false, "title": null, "tickSize": -3}}}}
   ]},
  {"width": 406, "height": 201,
   "resolve": {"axis": {"x": "independent", "y": "independent"}},
   "layer": [
    {"data": {"name": "d"}, "mark": {"type": "line", "strokeWidth": 1.5},
     "encoding": {
      "x": {"field": "t", "type": "quantitative", "scale": {"domain": [1850, 2110], "nice": false, "zero": false},
            "axis": {"orient": "bottom", "values": [1850, 1900, 1950, 2000, 2050, 2100], "format": "d", "title": "Year", "labelPadding": 11.5, "titlePadding": 9.5, "labelOverlap": false}},
      "y": {"field": "v", "type": "quantitative", "scale": {"domain": [-0.6, 0.05], "nice": false, "zero": false},
            "axis": {"orient": "left", "values": [-0.6, -0.5, -0.4, -0.3, -0.2, -0.1, 0], "format": ".1f", "title": "Nitrate all-sky DRF (W/m²)", "labelPadding": 10, "titlePadding": 10, "labelOverlap": false}},
      "color": {"field": "s", "type": "nominal",
                "scale": {"domain": ["GL85","GL60","GL45","EA85","EA60","EA45","EU85","EU60","EU45","NA85","NA60","NA45"],
                          "range": ["#000000","#000000","#000000","#dd2222","#dd2222","#dd2222","#33dd33","#33dd33","#33dd33","#2222cc","#2222cc","#2222cc"]},
                "legend": {"orient": "none", "legendX": 20, "legendY": 35, "title": null}},
      "strokeDash": {"field": "s", "type": "nominal",
                "scale": {"domain": ["GL85","GL60","GL45","EA85","EA60","EA45","EU85","EU60","EU45","NA85","NA60","NA45"],
                          "range": [[2,2.5],[8,4],[1,0],[2,2.5],[8,4],[1,0],[2,2.5],[8,4],[1,0],[2,2.5],[8,4],[1,0]]},
                "legend": {"orient": "none", "legendX": 20, "legendY": 35, "title": null}}
     }},
    {"data": {"values": [{}]}, "mark": {"type": "text", "font": "Liberation Serif", "fontSize": 27, "align": "center", "baseline": "middle"},
     "encoding": {
      "x": {"datum": 1855, "axis": {"orient": "top", "values": [1850, 1900, 1950, 2000, 2050, 2100], "labels": false, "title": null, "tickSize": -5}},
      "y": {"datum": 0.13, "axis": {"orient": "right", "values": [-0.6, -0.5, -0.4, -0.3, -0.2, -0.1, 0], "labels": false, "title": null, "tickSize": -5}},
      "text": {"value": "(d)"}}},
    {"data": {"values": [{}]}, "mark": {"type": "text", "fontSize": 23, "align": "center", "baseline": "alphabetic"},
     "encoding": {
      "x": {"datum": 1982, "axis": {"orient": "bottom", "values": [1850,1860,1870,1880,1890,1900,1910,1920,1930,1940,1950,1960,1970,1980,1990,2000,2010,2020,2030,2040,2050,2060,2070,2080,2090,2100], "labels": false, "title": null, "tickSize": -3}},
      "y": {"datum": 0.11, "axis": {"orient": "left", "values": [-0.6,-0.55,-0.5,-0.45,-0.4,-0.35,-0.3,-0.25,-0.2,-0.15,-0.1,-0.05,0,0.05], "labels": false, "title": null, "tickSize": -3}},
      "text": {"value": "Nitrate all-sky DRF"}}},
    {"data": {"values": [{}]}, "mark": {"type": "point", "opacity": 0, "size": 1},
     "encoding": {
      "x": {"datum": 1900, "axis": {"orient": "top", "values": [1850,1860,1870,1880,1890,1900,1910,1920,1930,1940,1950,1960,1970,1980,1990,2000,2010,2020,2030,2040,2050,2060,2070,2080,2090,2100], "labels": false, "title": null, "tickSize": -3}},
      "y": {"datum": 0, "axis": {"orient": "right", "values": [-0.6,-0.55,-0.5,-0.45,-0.4,-0.35,-0.3,-0.25,-0.2,-0.15,-0.1,-0.05,0,0.05], "labels": false, "title": null, "tickSize": -3}}}}
   ]}
],
"config": {
 "font": "Liberation Sans",
 "locale": {"number": {"decimal": ".", "thousands": ",", "grouping": [3], "currency": ["$", ""], "minus": "-"}},
 "view": {"stroke": "#808080", "strokeWidth": 1.5},
 "text": {"color": "#000000", "font": "Liberation Sans"},
 "axis": {"grid": false, "domain": false, "ticks": true, "tickColor": "#808080", "tickSize": -5, "tickWidth": 1,
          "labelFont": "Liberation Sans", "labelFontSize": 13, "labelColor": "#000000", "labelFlush": false, "labelOverlap": false, "labelBound": false,
          "titleFont": "Liberation Sans", "titleFontSize": 17, "titleFontWeight": "normal", "titleColor": "#000000"},
 "legend": {"symbolType": "stroke", "symbolSize": 144, "symbolStrokeWidth": 1.5, "labelFont": "Liberation Sans", "labelFontSize": 11.5,
            "labelColor": "#000000", "labelOffset": 1, "rowPadding": 0.7, "padding": 0, "symbolOffset": 0}
}
}
